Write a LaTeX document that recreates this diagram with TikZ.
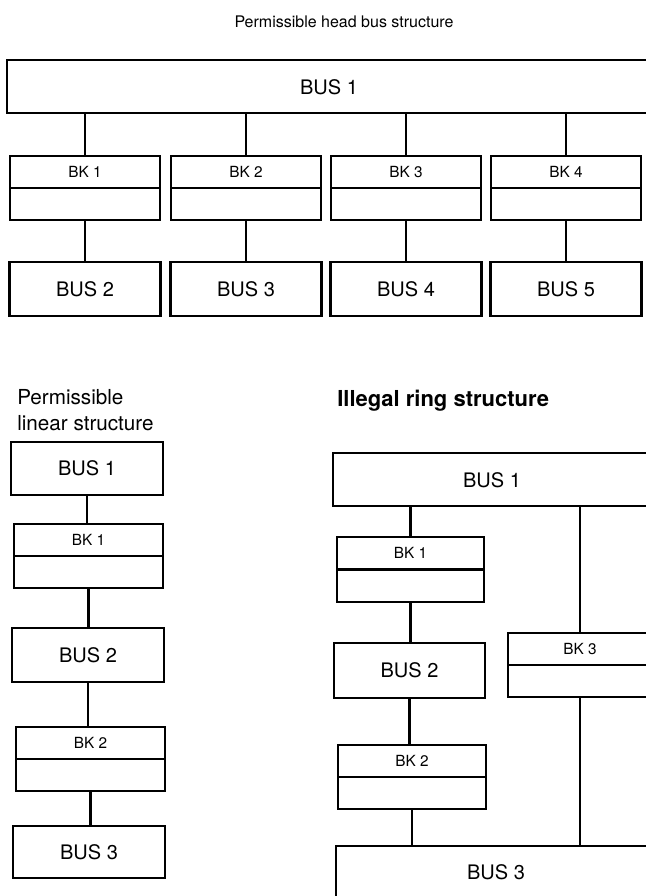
\documentclass[tikz,border=0pt]{standalone}
\usepackage{fontspec}
\setmainfont{TeX Gyre Heros}
\usetikzlibrary{calc}
\begin{document}
\begin{tikzpicture}[x=0.75pt,y=-0.75pt,
  unitbox/.style 2 args={draw, line width=1.8pt, inner sep=0pt, outer sep=0pt,
    minimum width=#1*0.75pt, minimum height=#2*0.75pt},
  buslbl/.style={font=\fontsize{15}{18}\selectfont, inner sep=0pt},
  bklbl/.style={font=\fontsize{11.5}{14}\selectfont, inner sep=0pt},
  conn/.style={line width=1.8pt},
  divider/.style={line width=1.8pt}]
\useasboundingbox (0,0) rectangle (646,896);
\clip (0,0) rectangle (646,896);

% ---------- top: head bus structure ----------
\node[font=\fontsize{12}{14}\selectfont, anchor=base, inner sep=0pt] (ttitle) at (344,27) {Permissible head bus structure};
\node[unitbox={645}{53}] (tbus1) at (329.5,86.5) {};
\node[buslbl] (tbus1l) at (329,87) {BUS 1};
\foreach \i/\x/\b in {1/85/2, 2/246/3, 3/406/4, 4/566/5} {
  \node[unitbox={150}{64}] (tbk\i) at (\x,188) {};
  \draw[divider] (tbk\i.west) -- (tbk\i.east);
  \node[bklbl] (tbkl\i) at ($(tbk\i.center)!0.5!(tbk\i.north)$) {BK \i};
  \node[unitbox={151}{54}, buslbl] (tbus\b) at (\x,289) {BUS \b};
  \draw[conn] (tbk\i.north) -- (tbk\i.north |- tbus1.south);
  \draw[conn] (tbk\i.south) -- (tbus\b.north);
}

% ---------- left: linear structure ----------
\node[font=\fontsize{15.5}{19.5}\selectfont, anchor=north west, align=left, inner sep=0pt] (ltitle) at (17,389) {Permissible\\linear structure};
\node[unitbox={152}{53}, buslbl] (lbus1) at (87,468.5) {BUS 1};
\node[unitbox={149}{64}] (lbk1) at (88.5,556) {};
\node[unitbox={152}{54}, buslbl] (lbus2) at (88,655) {BUS 2};
\node[unitbox={149}{64}] (lbk2) at (90.5,759) {};
\node[unitbox={152}{52}, buslbl] (lbus3) at (89,852) {BUS 3};
\foreach \k in {lbk1,lbk2} {
  \draw[divider] (\k.west) -- (\k.east);
}
\node[bklbl] (lbkl1) at ($(lbk1.center)!0.5!(lbk1.north)$) {BK 1};
\node[bklbl] (lbkl2) at ($(lbk2.center)!0.5!(lbk2.north)$) {BK 2};
\draw[conn] (lbus1.south) -- (lbus1.south |- lbk1.north);
\draw[conn] (lbk1.south) -- (lbk1.south |- lbus2.north);
\draw[conn] (lbus2.south) -- (lbus2.south |- lbk2.north);
\draw[conn] (lbk2.south) -- (lbk2.south |- lbus3.north);

% ---------- right: illegal ring structure ----------
\node[font=\bfseries\fontsize{16.5}{19}\selectfont, anchor=base west, inner sep=0pt] (rtitle) at (337,406) {Illegal ring structure};
\node[unitbox={327}{53}] (rbus1) at (496.5,479.5) {};
\node[buslbl] (rbus1l) at (492,480) {BUS 1};
\node[unitbox={147}{65}] (rbk1) at (410.5,569.5) {};
\node[unitbox={151}{55}, buslbl] (rbus2) at (409.5,670.5) {BUS 2};
\node[unitbox={148}{64}] (rbk2) at (412,777) {};
\node[unitbox={152}{64}] (rbk3) at (584,665) {};
\node[unitbox={324}{74}] (rbus3) at (498,883) {};
\node[buslbl] (rbus3l) at (496,872) {BUS 3};
\coordinate (r3x) at (580,0);
\foreach \k in {rbk1,rbk2,rbk3} {
  \draw[divider] (\k.west) -- (\k.east);
}
\node[bklbl] (rbkl1) at ($(rbk1.center)!0.5!(rbk1.north)$) {BK 1};
\node[bklbl] (rbkl2) at ($(rbk2.center)!0.5!(rbk2.north)$) {BK 2};
\node[bklbl] (rbkl3) at ($(r3x |- rbk3.center)!0.5!(r3x |- rbk3.north)$) {BK 3};
\draw[conn] (rbk1.north) -- (rbk1.north |- rbus1.south);
\draw[conn] (rbk1.south) -- (rbk1.south |- rbus2.north);
\draw[conn] (rbus2.south) -- (rbus2.south |- rbk2.north);
\draw[conn] (rbk2.south) -- (rbk2.south |- rbus3.north);
\draw[conn] (rbus1.south -| r3x) -- (rbk3.north -| r3x);
\draw[conn] (rbk3.south -| r3x) -- (rbus3.north -| r3x);
\end{tikzpicture}
\end{document}
